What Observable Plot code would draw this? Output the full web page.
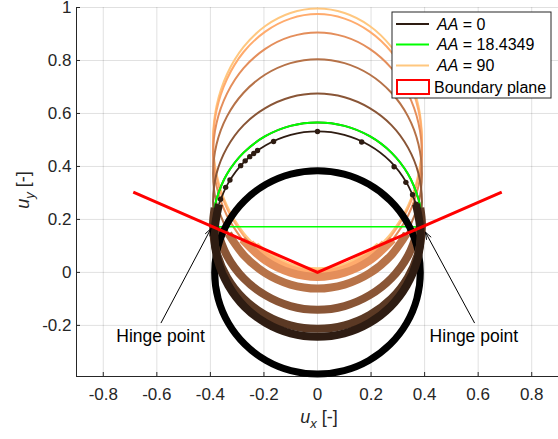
<!DOCTYPE html>
<html><head><meta charset="utf-8">
<script src="https://cdn.jsdelivr.net/npm/d3@7"></script>
<script src="https://cdn.jsdelivr.net/npm/@observablehq/plot@0.6"></script>
<style>body{margin:0;background:#fff} #chart{width:558px;height:439px}</style>
</head><body><div id="chart"></div>
<script>
// ---------- data ----------
const xTicks = [-0.8, -0.6, -0.4, -0.2, 0, 0.2, 0.4, 0.6, 0.8];
const yTicks = [-0.2, 0, 0.2, 0.4, 0.6, 0.8, 1];
const xDomain = [-0.9, 0.9];
const yDomain = [-0.393, 1];

// copper shades, darkest (AA = 0) to lightest (AA = 90)
const copperColors = ["#2e1c12", "#5b3924", "#895536", "#b67248", "#e48e5b", "#ffab6d", "#ffc77f"];
const legendLabels = ["0", "18.4349", "90"];

// upper (thin) arcs
const upper6 = [[0.232,0.101],[0.276,0.149],[0.338,0.252],[0.377,0.372],[0.39,0.5],[0.377,0.628],[0.338,0.748],[0.276,0.851],[0.195,0.93],[0.101,0.979],[0,0.996],[-0.101,0.979],[-0.195,0.93],[-0.276,0.851],[-0.338,0.748],[-0.377,0.628],[-0.39,0.5],[-0.377,0.372],[-0.338,0.252],[-0.276,0.149],[-0.232,0.101]];
const upper5 = [[0.251,0.11],[0.276,0.139],[0.338,0.241],[0.377,0.359],[0.39,0.486],[0.377,0.612],[0.338,0.73],[0.276,0.832],[0.195,0.909],[0.101,0.958],[0,0.975],[-0.101,0.958],[-0.195,0.909],[-0.276,0.832],[-0.338,0.73],[-0.377,0.612],[-0.39,0.486],[-0.377,0.359],[-0.338,0.241],[-0.276,0.139],[-0.251,0.11]];
const upper4 = [[0.281,0.124],[0.338,0.214],[0.377,0.325],[0.39,0.445],[0.377,0.564],[0.338,0.675],[0.276,0.771],[0.195,0.844],[0.101,0.89],[0,0.906],[-0.101,0.89],[-0.195,0.844],[-0.276,0.771],[-0.338,0.675],[-0.377,0.564],[-0.39,0.445],[-0.377,0.325],[-0.338,0.214],[-0.281,0.124]];
const upper3 = [[0.333,0.146],[0.377,0.26],[0.39,0.372],[0.377,0.484],[0.338,0.589],[0.276,0.678],[0.195,0.747],[0.101,0.79],[0,0.805],[-0.101,0.79],[-0.195,0.747],[-0.276,0.678],[-0.338,0.589],[-0.377,0.484],[-0.39,0.372],[-0.377,0.26],[-0.333,0.146]];
const upper2 = [[0.378,0.168],[0.39,0.267],[0.377,0.373],[0.338,0.471],[0.276,0.556],[0.195,0.62],[0.101,0.661],[0,0.675],[-0.101,0.661],[-0.195,0.62],[-0.276,0.556],[-0.338,0.471],[-0.377,0.373],[-0.39,0.267],[-0.378,0.168]];
const upper1 = [[0.384,0.244],[0.377,0.277],[0.338,0.371],[0.276,0.452],[0.195,0.514],[0.101,0.553],[0,0.566],[-0.101,0.553],[-0.195,0.514],[-0.276,0.452],[-0.338,0.371],[-0.377,0.277],[-0.384,0.244]];
const upper0 = [[0.368,0.258],[0.333,0.338],[0.272,0.419],[0.193,0.48],[0.1,0.519],[0,0.532],[-0.1,0.519],[-0.193,0.48],[-0.272,0.419],[-0.333,0.338],[-0.368,0.258]];

// lower (thick) arcs
const lower6 = [[-0.232,0.101],[-0.195,0.071],[-0.101,0.021],[0,0.004],[0.101,0.021],[0.195,0.071],[0.232,0.101]];
const lower5 = [[-0.251,0.11],[-0.195,0.062],[-0.101,0.013],[0,-0.004],[0.101,0.013],[0.195,0.062],[0.251,0.11]];
const lower4 = [[-0.281,0.124],[-0.195,0.045],[-0.101,-0.001],[0,-0.017],[0.101,-0.001],[0.195,0.045],[0.281,0.124]];
const lower3 = [[-0.333,0.146],[-0.276,0.066],[-0.195,-0.003],[-0.101,-0.046],[0,-0.061],[0.101,-0.046],[0.195,-0.003],[0.276,0.066],[0.333,0.146]];
const lower2 = [[-0.378,0.168],[-0.338,0.063],[-0.276,-0.022],[-0.195,-0.086],[-0.101,-0.127],[0,-0.141],[0.101,-0.127],[0.195,-0.086],[0.276,-0.022],[0.338,0.063],[0.378,0.168]];
const lower1 = [[-0.384,0.244],[-0.39,0.177],[-0.377,0.076],[-0.338,-0.018],[-0.276,-0.099],[-0.195,-0.161],[-0.101,-0.2],[0,-0.213],[0.101,-0.2],[0.195,-0.161],[0.276,-0.099],[0.338,-0.018],[0.377,0.076],[0.39,0.177],[0.384,0.244]];
const lower0 = [[-0.368,0.258],[-0.385,0.145],[-0.372,0.044],[-0.333,-0.049],[-0.272,-0.13],[-0.193,-0.191],[-0.1,-0.23],[0,-0.243],[0.1,-0.23],[0.193,-0.191],[0.272,-0.13],[0.333,-0.049],[0.372,0.044],[0.385,0.145],[0.368,0.258]];

// AA = 0 markers
const markers0 = [[0.368,0.257],[0.355,0.293],[0.33,0.34],[0.286,0.399],[0.165,0.492],[0,0.532],[-0.164,0.494],[-0.224,0.46],[-0.238,0.449],[-0.253,0.437],[-0.27,0.421],[-0.287,0.403],[-0.327,0.349],[-0.343,0.321],[-0.362,0.276]];

// AA = 18.4349 (green) arc and chord between hinge points
const greenArc = [[0.39,0.172],[0.384,0.244],[0.377,0.277],[0.338,0.371],[0.276,0.452],[0.195,0.514],[0.101,0.553],[0,0.566],[-0.101,0.553],[-0.195,0.514],[-0.276,0.452],[-0.338,0.371],[-0.377,0.277],[-0.384,0.244],[-0.39,0.172]];
const greenChord = [[-0.39,0.172],[0.39,0.172]];

// black reference circle
const blackCircle = [[0,-0.384],[0.0994,-0.371],[0.192,-0.3326],[0.2715,-0.2715],[0.3326,-0.192],[0.371,-0.0994],[0.384,0],[0.371,0.0994],[0.3326,0.192],[0.2715,0.2715],[0.192,0.3326],[0.0994,0.371],[0,0.384],[-0.0994,0.371],[-0.192,0.3326],[-0.2715,0.2715],[-0.3326,0.192],[-0.371,0.0994],[-0.384,0],[-0.371,-0.0994],[-0.3326,-0.192],[-0.2715,-0.2715],[-0.192,-0.3326],[-0.0994,-0.371]];

// boundary plane
const boundaryPlane = [[-0.688,0.303],[0,0],[0.688,0.303]];

// annotations
const hingeArrows = [{x1:-0.584,y1:-0.19,x2:-0.398,y2:0.165},{x1:0.586,y1:-0.19,x2:0.403,y2:0.152}];
const hingeLabels = [{x:-0.586,y:-0.242,text:"Hinge point"},{x:0.584,y:-0.242,text:"Hinge point"}];

// ---------- drawing ----------
const W = 558, H = 439, mL = 76, mR = 0, mT = 7, mB = 63;
const frameW = W - mL - mR, frameH = H - mT - mB;
const FONT = "'Liberation Sans', Arial, Helvetica, sans-serif";
const AX = "#262626";
const px = d => d[0], py = d => d[1];
const path = (pts, color, w, curve = "catmull-rom") =>
  Plot.line(pts, {x: px, y: py, stroke: color, strokeWidth: w, curve, strokeLinecap: "butt", strokeLinejoin: "round"});

const uppers = [upper6, upper5, upper4, upper3, upper2];
const upperCols = [copperColors[6], copperColors[5], copperColors[4], copperColors[3], copperColors[2]];
const lowersLight = [lower6, lower5, lower4, lower3, lower2];

const chart = Plot.plot({
  width: W, height: H,
  marginLeft: mL, marginRight: mR, marginTop: mT, marginBottom: mB,
  x: {domain: xDomain, label: null},
  y: {domain: yDomain, label: null},
  style: {fontFamily: FONT, fontSize: "17px", color: AX, background: "#fff", overflow: "visible"},
  marks: [
    Plot.gridX(xTicks, {stroke: "#000", strokeOpacity: 0.12, strokeWidth: 1}),
    Plot.gridY(yTicks, {stroke: "#000", strokeOpacity: 0.12, strokeWidth: 1}),
    Plot.ruleX([xDomain[0]], {stroke: AX, strokeWidth: 1}),
    Plot.ruleY([yDomain[0]], {stroke: AX, strokeWidth: 1}),
    Plot.tickX(xTicks, {x: d => d, stroke: AX, insetTop: frameH - 4}),
    Plot.tickY(yTicks, {y: d => d, stroke: AX, insetRight: frameW - 4}),
    Plot.axisX(xTicks, {tickSize: 0, tickPadding: 11, fontSize: 17, tickFormat: d => String(d), label: null, fill: AX}),
    Plot.axisY(yTicks, {tickSize: 0, tickPadding: 5, fontSize: 17, tickFormat: d => String(d), label: null, fill: AX}),
    ...uppers.map((u, i) => path(u, upperCols[i], 2)),
    path(upper1, copperColors[1], 2),
    ...lowersLight.map((l, i) => path(l, upperCols[i], 8)),
    path(greenChord, "#00ff00", 1.5, "linear"),
    path(greenArc, "#00ff00", 2),
    path(blackCircle, "#000", 7, "catmull-rom-closed"),
    path(lower1, copperColors[1], 8),
    path(lower0, copperColors[0], 8),
    path(upper0, copperColors[0], 1.8),
    Plot.dot(markers0, {x: px, y: py, r: 2.7, fill: copperColors[0], stroke: "none"}),
    path(boundaryPlane, "#ff0000", 3, "linear"),
    Plot.arrow(hingeArrows, {x1: "x1", y1: "y1", x2: "x2", y2: "y2", stroke: "#000", strokeWidth: 1, headLength: 11, headAngle: 40}),
    Plot.text(hingeLabels, {x: "x", y: "y", text: "text", fontSize: 17.5, fill: "#000", fontFamily: FONT})
  ]
});
document.getElementById("chart").appendChild(chart);

const svg = d3.select(chart);
// axis labels
const xl = svg.append("text").attr("x", 319).attr("y", 423).attr("text-anchor", "middle")
  .attr("font-family", FONT).attr("font-size", 18).attr("fill", AX);
xl.append("tspan").attr("font-style", "italic").text("u");
xl.append("tspan").attr("font-style", "italic").attr("font-size", 13).attr("dy", 5).text("x");
xl.append("tspan").attr("dy", -5).text(" [-]");

const yl = svg.append("text").attr("transform", "translate(29,190) rotate(-90)").attr("text-anchor", "middle")
  .attr("font-family", FONT).attr("font-size", 18).attr("fill", AX);
yl.append("tspan").attr("font-style", "italic").text("u");
yl.append("tspan").attr("font-style", "italic").attr("font-size", 13).attr("dy", 5).text("y");
yl.append("tspan").attr("dy", -5).text(" [-]");

// legend
const lg = svg.append("g").attr("font-family", FONT).attr("font-size", 16).attr("fill", "#000")
  .attr("text-anchor", "start");
lg.append("rect").attr("x", 392).attr("y", 12).attr("width", 159).attr("height", 86)
  .attr("fill", "#fff").attr("stroke", AX).attr("stroke-width", 1);
const entries = [
  {c: copperColors[0], t: legendLabels[0], y: 24},
  {c: "#00ff00", t: legendLabels[1], y: 44.5},
  {c: copperColors[6], t: legendLabels[2], y: 65.5}
];
entries.forEach(e => {
  lg.append("line").attr("x1", 396).attr("x2", 429).attr("y1", e.y).attr("y2", e.y)
    .attr("stroke", e.c).attr("stroke-width", 2);
  const t = lg.append("text").attr("x", 437).attr("y", e.y + 5.8).attr("text-anchor", "start");
  t.append("tspan").attr("font-style", "italic").text("AA");
  t.append("tspan").text(" = " + e.t);
});
lg.append("rect").attr("x", 397).attr("y", 80).attr("width", 32).attr("height", 14)
  .attr("fill", "#fff").attr("stroke", "#ff0000").attr("stroke-width", 2);
lg.append("text").attr("x", 434).attr("y", 93).attr("text-anchor", "start").text("Boundary plane");
</script>
</body></html>
